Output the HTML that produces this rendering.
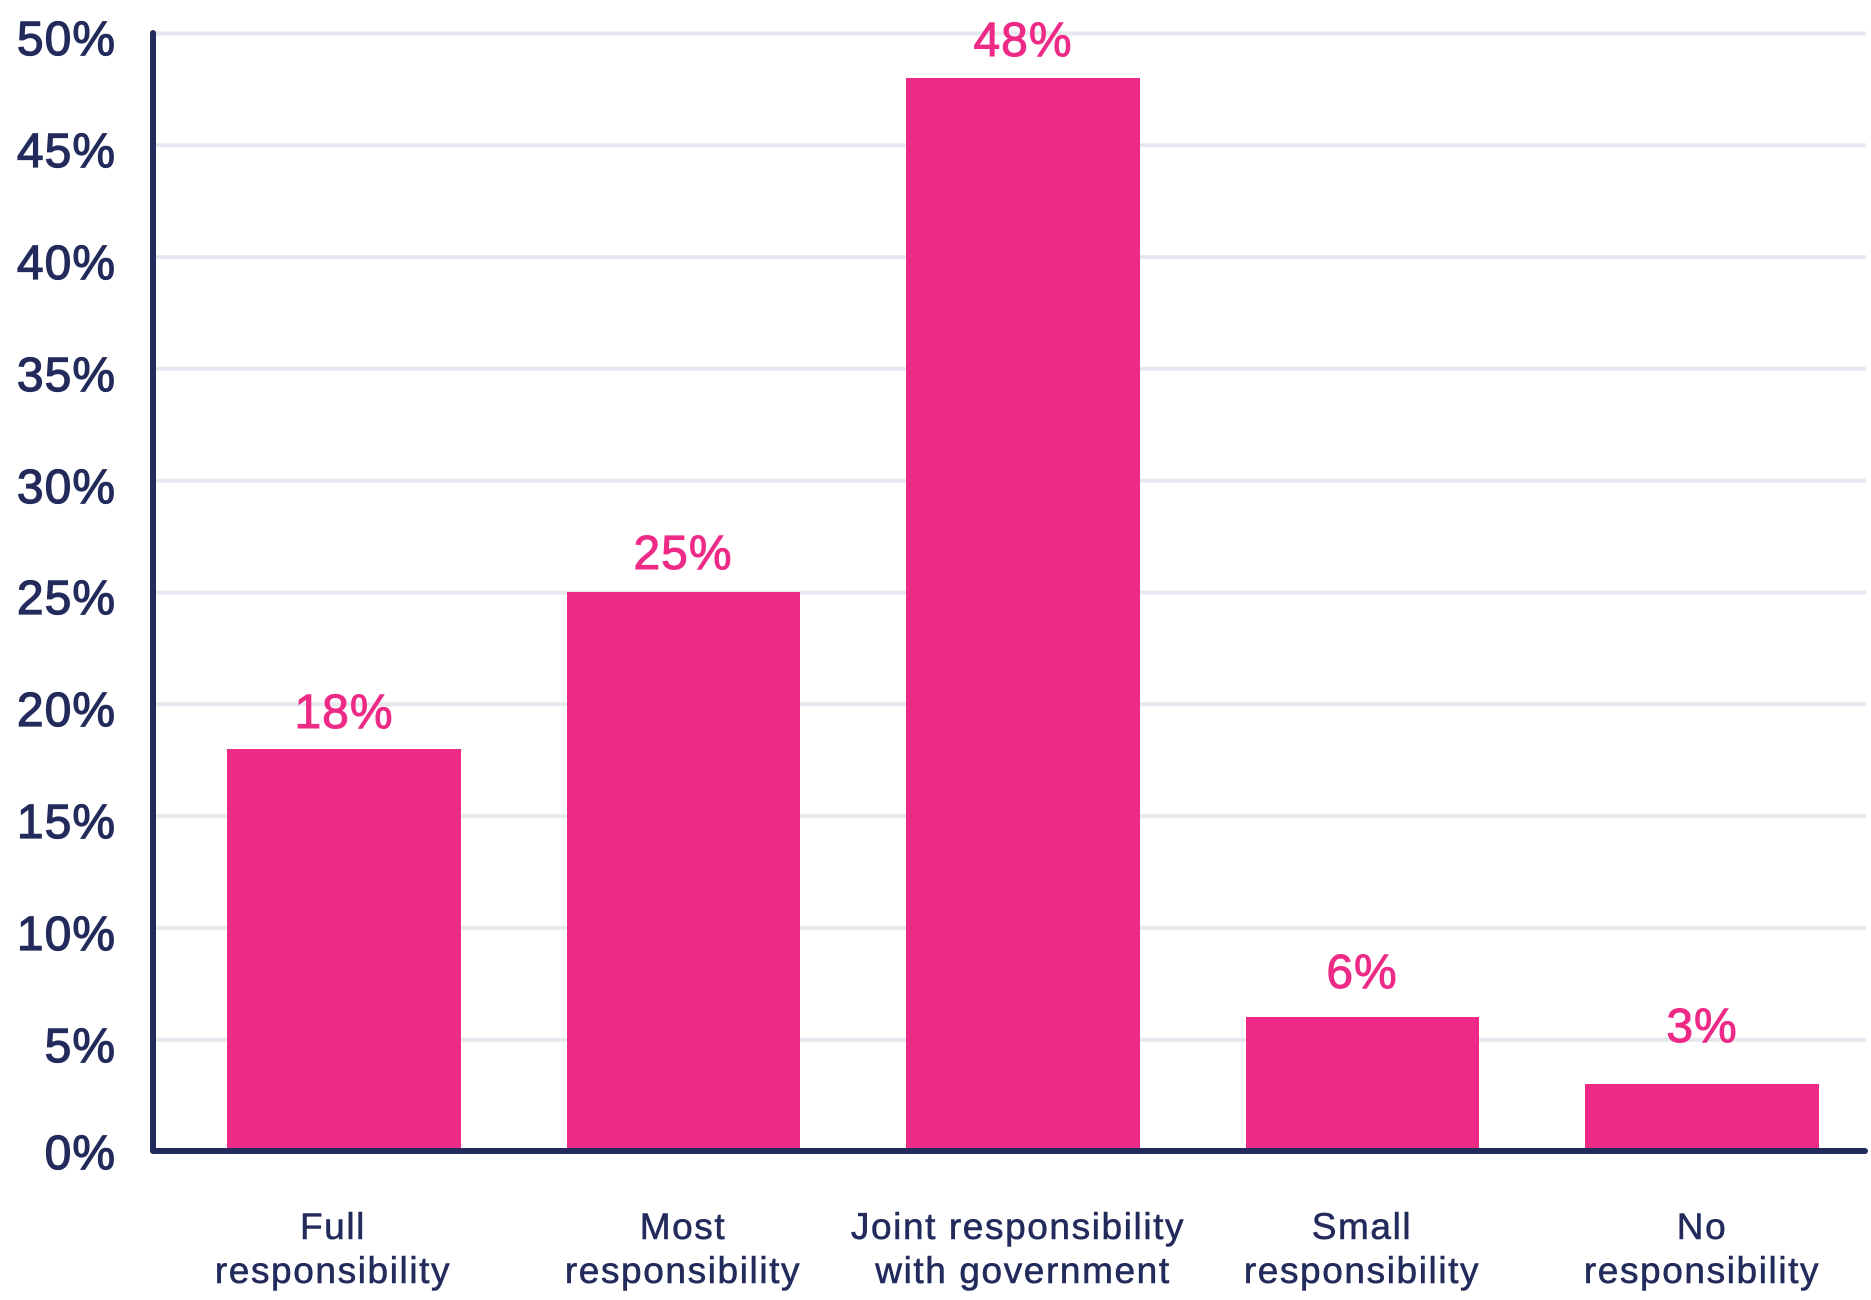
<!DOCTYPE html>
<html><head><meta charset="utf-8"><style>
html,body{margin:0;padding:0;background:#fff;}
svg{display:block;}
</style></head><body>
<svg width="1871" height="1300" viewBox="0 0 1871 1300" xmlns="http://www.w3.org/2000/svg">
<g stroke="#e7e7ef" stroke-width="4">
<line x1="156" x2="1866" y1="33.5" y2="33.5"/>
<line x1="156" x2="1866" y1="145.3" y2="145.3"/>
<line x1="156" x2="1866" y1="257.1" y2="257.1"/>
<line x1="156" x2="1866" y1="368.9" y2="368.9"/>
<line x1="156" x2="1866" y1="480.7" y2="480.7"/>
<line x1="156" x2="1866" y1="592.5" y2="592.5"/>
<line x1="156" x2="1866" y1="704.3" y2="704.3"/>
<line x1="156" x2="1866" y1="816.1" y2="816.1"/>
<line x1="156" x2="1866" y1="927.9" y2="927.9"/>
<line x1="156" x2="1866" y1="1039.7" y2="1039.7"/>
</g>
<g fill="#ed2b87">
<rect x="227" y="749" width="234" height="402"/>
<rect x="567" y="592" width="233" height="559"/>
<rect x="906" y="78" width="234" height="1073"/>
<rect x="1246" y="1017" width="233" height="134"/>
<rect x="1585" y="1084" width="234" height="67"/>
</g>
<path d="M153 33 V1151 H1865" fill="none" stroke="#222b5b" stroke-width="6" stroke-linecap="round" stroke-linejoin="round"/>
<g font-family="Liberation Sans, sans-serif" font-size="48" fill="#222b5b" stroke="#222b5b" stroke-width="1.2" letter-spacing="1" text-anchor="end">
<text x="116" y="55">50%</text>
<text x="116" y="167">45%</text>
<text x="116" y="279">40%</text>
<text x="116" y="391">35%</text>
<text x="116" y="503">30%</text>
<text x="116" y="614">25%</text>
<text x="116" y="726">20%</text>
<text x="116" y="838">15%</text>
<text x="116" y="950">10%</text>
<text x="116" y="1062">5%</text>
<text x="116" y="1169">0%</text>
</g>
<g font-family="Liberation Sans, sans-serif" font-size="48" fill="#ed2b87" stroke="#ed2b87" stroke-width="1" letter-spacing="1" text-anchor="middle">
<text x="344" y="728">18%</text>
<text x="683" y="569">25%</text>
<text x="1023" y="56">48%</text>
<text x="1362" y="988">6%</text>
<text x="1702" y="1042">3%</text>
</g>
<g font-family="Liberation Sans, sans-serif" font-size="37" fill="#222b5b" stroke="#222b5b" stroke-width="0.6" letter-spacing="1.6" text-anchor="middle">
<text x="333" y="1239">Full</text><text x="333" y="1283">responsibility</text>
<text x="683" y="1239">Most</text><text x="683" y="1283">responsibility</text>
<text x="1018" y="1239">Joint responsibility</text><text x="1023" y="1283">with government</text>
<text x="1362" y="1239">Small</text><text x="1362" y="1283">responsibility</text>
<text x="1702" y="1239">No</text><text x="1702" y="1283">responsibility</text>
</g>
</svg>
</body></html>
